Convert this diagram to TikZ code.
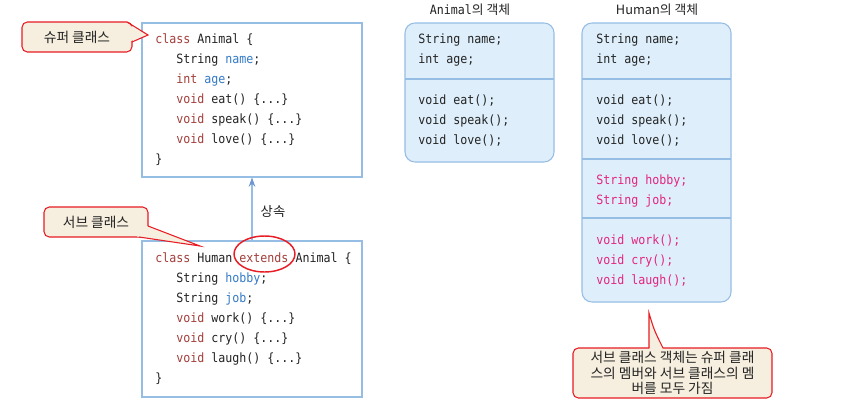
\documentclass[tikz,border=0pt]{standalone}
\usepackage{fontspec}
\setmainfont{Noto Sans CJK KR}
\newfontfamily\krfont{Noto Sans CJK KR}
\newfontfamily\codefont[FakeStretch=0.91]{DejaVu Sans Mono}
\usetikzlibrary{arrows.meta,shapes.geometric}
\definecolor{kwc}{RGB}{163,62,58}
\definecolor{idc}{RGB}{52,122,200}
\definecolor{pinkc}{RGB}{228,36,128}
\definecolor{txtc}{RGB}{35,35,35}
\definecolor{bordc}{RGB}{150,190,228}
\definecolor{arrc}{RGB}{110,150,210}
\definecolor{objfill}{RGB}{222,239,251}
\definecolor{callfill}{RGB}{246,238,222}
\definecolor{callred}{RGB}{232,28,36}
\newcommand{\kwd}[1]{\textcolor{kwc}{#1}}
\newcommand{\idn}[1]{\textcolor{idc}{#1}}
\begin{document}
\begin{tikzpicture}[x=0.75pt,y=-0.75pt,
  codeln/.style={anchor=base west, inner sep=0pt, text=txtc, font=\codefont\fontsize{9.6}{11}\selectfont},
  pinkln/.style={codeln, text=pinkc},
  classbox/.style={draw=bordc, line width=0.8pt, fill=white, minimum width=165pt, inner sep=0pt},
  objbox/.style={draw=bordc, line width=0.8pt, fill=objfill, rounded corners=7.5pt, minimum width=111.75pt, inner sep=0pt},
  divider/.style={draw=bordc, line width=0.8pt},
  callout/.style={draw=callred, line width=0.8pt, fill=callfill, rounded corners=4pt, inner sep=0pt, text=txtc, font=\krfont\fontsize{10.3}{11.6}\selectfont, align=center},
  pointer/.style={draw=callred, line width=0.8pt},
  title/.style={inner sep=0pt, text=txtc, font=\krfont\fontsize{9.6}{11}\selectfont},
  lbl/.style={inner sep=0pt, text=txtc, font=\krfont\fontsize{10}{11}\selectfont}
]
\useasboundingbox (0,0) rectangle (842,410);
\fill[white] (0,0) rectangle (842,410);

% class boxes
\node[classbox, minimum height=115.5pt] (aclass) at (252,100) {};
\node[classbox, minimum height=117pt] (hclass) at (252,319) {};

% Animal class code
\node[codeln] (a1) at (155,43.5) {\kwd{class} Animal \{};
\node[codeln] (a2) at (176,63.5) {String \idn{name};};
\node[codeln] (a3) at (176,83.5) {\kwd{int} \idn{age};};
\node[codeln] (a4) at (176,103.5) {\kwd{void} eat() \{...\}};
\node[codeln] (a5) at (176,123.5) {\kwd{void} speak() \{...\}};
\node[codeln] (a6) at (176,143.5) {\kwd{void} love() \{...\}};
\node[codeln] (a7) at (155,163.5) {\}};

% Human class code
\node[codeln] (h1) at (155,262.5) {\kwd{class} Human \kwd{extends} Animal \{};
\node[codeln] (h2) at (176,282.5) {String \idn{hobby};};
\node[codeln] (h3) at (176,302.5) {String \idn{job};};
\node[codeln] (h4) at (176,322.5) {\kwd{void} work() \{...\}};
\node[codeln] (h5) at (176,342.5) {\kwd{void} cry() \{...\}};
\node[codeln] (h6) at (176,362.5) {\kwd{void} laugh() \{...\}};
\node[codeln] (h7) at (155,382.5) {\}};

% inheritance arrow
\draw[draw=bordc, line width=0.8pt, -{Stealth[length=7pt,width=5pt,color=arrc]}] (hclass.north) -- (aclass.south);
\node[lbl] (inh) at (273,212) {상속};

% extends ellipse
\node[draw=callred, line width=1.1pt, ellipse, minimum width=45.75pt, minimum height=27pt, inner sep=0pt] (ext) at (264.5,254) {};

% super class callout
\node[callout, minimum width=82.5pt, minimum height=22.5pt] (sup) at (77,37) {슈퍼 클래스};
\coordinate (suptip) at (148,35);
\fill[callfill] (126,23.5) -- (suptip) -- (131,41) -- (126,41) -- cycle;
\draw[pointer] (127,22) -- (suptip) -- (132,42);

% sub class callout
\node[callout, minimum width=78pt, minimum height=22.5pt] (sub) at (96,222) {서브 클래스};
\coordinate (subtip) at (200,246);
\fill[callfill] (147,226) -- (subtip) -- (137,236.5) -- (140,228) -- cycle;
\draw[pointer] (148,226) -- (subtip) -- (139,237);

% object boxes
\node[title] (atitle) at (470,10) {{\codefont\fontsize{9.6}{11}\selectfont Animal}의 객체};
\node[title] (htitle) at (657,10) {Human의 객체};
\node[objbox, minimum height=104.25pt] (aobj) at (479.5,92.5) {};
\node[objbox, minimum height=209.25pt] (hobj) at (656.5,162.5) {};
\draw[divider] (405,79) -- (554,79);
\draw[divider] (582,79) -- (731,79);
\draw[divider] (582,159) -- (731,159);
\draw[divider] (582,218) -- (731,218);

\node[codeln] (o1) at (418,43.5) {String name;};
\node[codeln] (o2) at (418,64) {int age;};
\node[codeln] (o3) at (418,104) {void eat();};
\node[codeln] (o4) at (418,124) {void speak();};
\node[codeln] (o5) at (418,144) {void love();};

\node[codeln] (p1) at (596,43.5) {String name;};
\node[codeln] (p2) at (596,64) {int age;};
\node[codeln] (p3) at (596,104) {void eat();};
\node[codeln] (p4) at (596,124) {void speak();};
\node[codeln] (p5) at (596,144) {void love();};
\node[pinkln] (p6) at (596,184) {String hobby;};
\node[pinkln] (p7) at (596,204) {String job;};
\node[pinkln] (p8) at (596,244) {void work();};
\node[pinkln] (p9) at (596,264) {void cry();};
\node[pinkln] (p10) at (596,284) {void laugh();};

% bottom callout
\node[callout, minimum width=149.25pt, minimum height=37.5pt] (note) at (672.5,373) {서브 클래스 객체는 슈퍼 클래\\스의 멤버와 서브 클래스의 멤\\버를 모두 가짐};
\coordinate (notetip) at (649,313);
\fill[callfill] (649.5,349.5) -- (notetip) -- (663,349.5) -- cycle;
\draw[pointer] (649,348) -- (notetip) .. controls (654,330) .. (663,348);
\end{tikzpicture}
\end{document}
